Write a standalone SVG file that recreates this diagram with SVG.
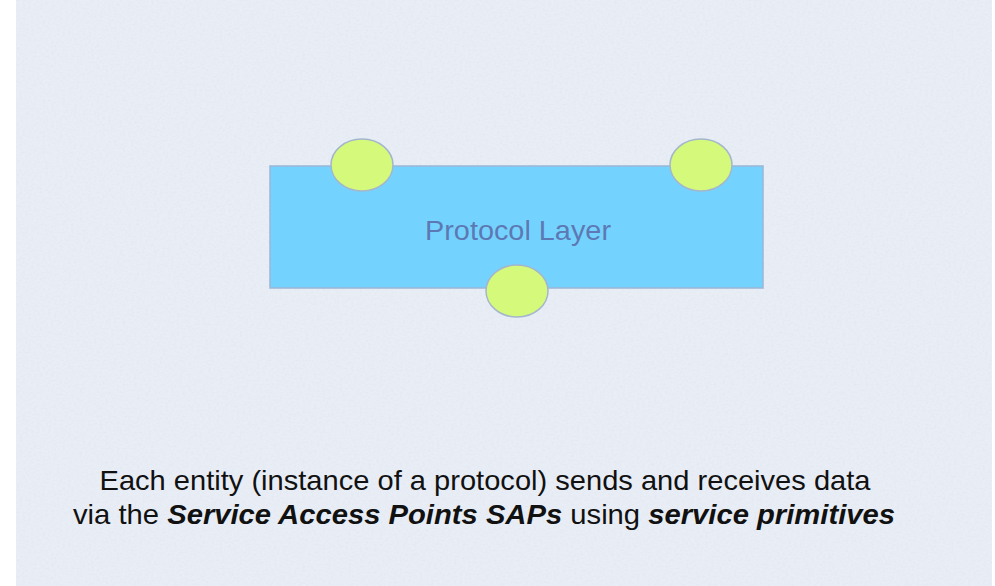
<svg xmlns="http://www.w3.org/2000/svg" width="995" height="586" viewBox="0 0 995 586">
  <defs>
    <filter id="paper" x="0" y="0" width="100%" height="100%">
      <feTurbulence type="fractalNoise" baseFrequency="0.35 0.5" numOctaves="3" seed="4" result="n"/>
      <feColorMatrix in="n" type="matrix" values="0 0 0 0 0.45  0 0 0 0 0.5  0 0 0 0 0.6  0 0 0 -0.9 0.55" result="t"/>
      <feComposite in="t" in2="SourceGraphic" operator="in"/>
    </filter>
    <style>
      .layer { fill: #74d3fe; stroke: #9bb7d6; stroke-width: 1.5; }
      .sap { fill: #d5f97a; stroke: #a3b6cc; stroke-width: 1.5; }
      .label { font-family: "Liberation Sans", Arial, sans-serif; fill: #5d79b4; font-size: 27.5px; text-anchor: middle; }
      .caption { font-family: "Liberation Sans", Arial, sans-serif; fill: #111; font-size: 28px; text-anchor: middle; }
      .em { font-weight: bold; font-style: italic; }
    </style>
  </defs>

  <!-- page -->
  <rect x="0" y="0" width="995" height="586" fill="#ffffff"/>
  <rect x="16" y="0" width="976" height="586" fill="#e9eef6"/>
  <rect x="16" y="0" width="976" height="586" fill="#ffffff" opacity="0.25" filter="url(#paper)"/>

  <g id="protocol-layer">
    <rect class="layer" x="270" y="166" width="493" height="122"/>
    <text class="label" x="518" y="239.5" textLength="186" lengthAdjust="spacingAndGlyphs">Protocol Layer</text>
  </g>

  <g id="sap-top-left">
    <ellipse class="sap" cx="362" cy="165" rx="31" ry="26"/>
  </g>
  <g id="sap-top-right">
    <ellipse class="sap" cx="701" cy="165" rx="31" ry="26"/>
  </g>
  <g id="sap-bottom">
    <ellipse class="sap" cx="517" cy="291" rx="31" ry="26"/>
  </g>

  <g id="connectors"/>

  <g id="caption">
    <text class="caption" x="485" y="490" textLength="771" lengthAdjust="spacingAndGlyphs">Each entity (instance of a protocol) sends and receives data</text>
    <text class="caption" x="484" y="524" textLength="822" lengthAdjust="spacingAndGlyphs">via the <tspan class="em">Service Access Points SAPs</tspan> using <tspan class="em">service primitives</tspan></text>
  </g>
</svg>
